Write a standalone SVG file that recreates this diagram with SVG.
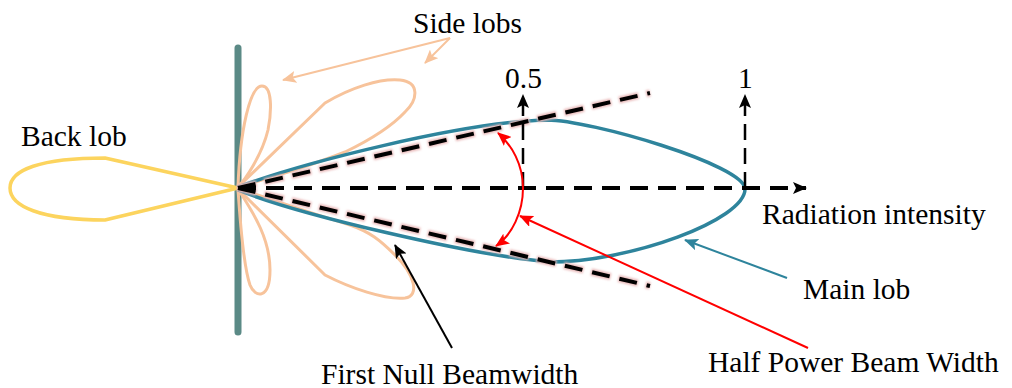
<svg xmlns="http://www.w3.org/2000/svg" width="1012" height="388" viewBox="0 0 1012 388">
<style>
text{font-family:"Liberation Serif","Times New Roman",serif;font-size:29.5px;fill:#000}
.side{fill:none;stroke:#f7c39b;stroke-width:3;stroke-linejoin:round}
.main{fill:none;stroke:#2e849c;stroke-width:3.5}
.back{fill:none;stroke:#fcd45e;stroke-width:3.5;stroke-linejoin:round}
.glow{fill:none;stroke:#e9b9b9;stroke-width:7;stroke-dasharray:20 8;stroke-dashoffset:1;filter:url(#blur)}
.dash{fill:none;stroke:#000;stroke-width:4;stroke-dasharray:18 10}
.vdash{fill:none;stroke:#000;stroke-width:2.5;stroke-dasharray:16 8}
.red{fill:none;stroke:#ff0000;stroke-width:2}
</style>
<defs>
<filter id="blur" x="-10%" y="-50%" width="120%" height="200%"><feGaussianBlur stdDeviation="1.2"/></filter>
<filter id="gblur" x="-200%" y="-10%" width="500%" height="120%"><feGaussianBlur stdDeviation="1.8"/></filter>
<marker id="ak" markerUnits="userSpaceOnUse" markerWidth="14" markerHeight="12" refX="13" refY="6" orient="auto"><path d="M0,0 L14,6 L0,12 L3,6 Z" fill="#000"/></marker>
<marker id="ar" markerUnits="userSpaceOnUse" markerWidth="14" markerHeight="12" refX="13" refY="6" orient="auto"><path d="M0,0 L14,6 L0,12 L3,6 Z" fill="#ff0000"/></marker>
<marker id="at" markerUnits="userSpaceOnUse" markerWidth="14" markerHeight="12" refX="13" refY="6" orient="auto"><path d="M0,0 L14,6 L0,12 L3,6 Z" fill="#2e849c"/></marker>
<marker id="ap" markerUnits="userSpaceOnUse" markerWidth="14" markerHeight="12" refX="13" refY="6" orient="auto"><path d="M0,0 L14,6 L0,12 L3,6 Z" fill="#f7c39b"/></marker>
</defs>
<rect width="1012" height="388" fill="#fff"/>

<g id="antenna">
<line x1="238" y1="44" x2="238" y2="336" stroke="#d2e2ad" stroke-width="14" stroke-linecap="round" filter="url(#gblur)"/>
<line x1="238" y1="48" x2="238" y2="332" stroke="#5b8a86" stroke-width="7" stroke-linecap="round"/>
</g>

<g id="back-lobe">
<path class="back" d="M238,188 L105,158 C40,158 10,170 10,188 C10,206 40,220 105,220 Z"/>
</g>

<g id="side-lobes">
<path class="side" d="M238,187 C240,130 250,86 262,86 C272,86 272,110 268,130 C262,155 245,180 238,187 Z"/>
<path class="side" d="M238,187 L325,103 C350,88 380,78 400,80 C420,82 418,100 405,112 C390,128 370,140 345,152 C300,170 260,180 238,187 Z"/>
<path class="side" d="M238,189 C255,215 270,240 270,270 C270,300 255,298 250,285 C243,265 240,220 238,189 Z"/>
<path class="side" d="M238,189 L325,275 C350,288 385,300 405,298 C420,296 415,275 395,255 C380,240 370,232 350,225 C300,210 260,195 238,189 Z"/>
</g>

<g id="main-lobe">
<path class="main" d="M238,187 C300,164 460,122 547,120 C590,120 745,165 745,189 C745,220 630,262 550,262 C470,255 300,215 238,190"/>
</g>

<g id="connectors">
<path class="glow" d="M238,188 L650,93"/>
<path class="glow" d="M238,188 L650,286"/>
<path class="glow" d="M238,188 L808,188"/>
<path class="dash" d="M238,188 L650,93"/>
<path class="dash" d="M238,188 L650,286"/>
<path class="dash" d="M238,188 L806,188" marker-end="url(#ak)"/>
<path class="vdash" d="M523,188 L523,95" marker-end="url(#ak)"/>
<path class="vdash" d="M745,188 L745,95" marker-end="url(#ak)"/>
<path class="red" d="M523,188 C523,165 512,145 498,133" marker-end="url(#ar)"/>
<path class="red" d="M523,188 C523,212 512,235 496,246" marker-end="url(#ar)"/>
<path class="red" d="M808,348 L520,216" marker-end="url(#ar)"/>
<path d="M787,278 L685,240" fill="none" stroke="#2e849c" stroke-width="2" marker-end="url(#at)"/>
<path d="M452,348 L395,245" fill="none" stroke="#000" stroke-width="2" marker-end="url(#ak)"/>
<path d="M450,38 L283,80" fill="none" stroke="#f7c39b" stroke-width="2" marker-end="url(#ap)"/>
<path d="M450,38 L425,63" fill="none" stroke="#f7c39b" stroke-width="2" marker-end="url(#ap)"/>
</g>

<g id="labels">
<text x="413" y="33">Side lobs</text>
<text x="21" y="146">Back lob</text>
<text x="505" y="88">0.5</text>
<text x="738" y="88">1</text>
<text x="762" y="224">Radiation intensity</text>
<text x="803" y="299">Main lob</text>
<text x="708" y="372">Half Power Beam Width</text>
<text x="321" y="384">First Null Beamwidth</text>
</g>
</svg>
